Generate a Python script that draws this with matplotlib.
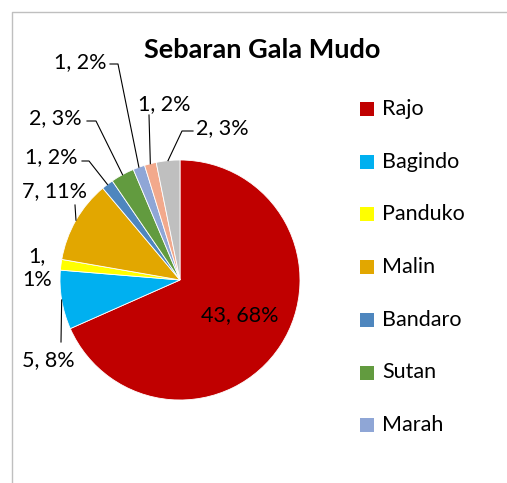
import matplotlib
matplotlib.use("Agg")
from matplotlib import pyplot as plt
import numpy as np

names = ['Rajo', 'Bagindo', 'Panduko', 'Malin', 'Bandaro', 'Sutan', 'Marah', 'Lain 1', 'Lain 2']
values = [43, 5, 0.9, 7, 1, 2, 1, 1, 2]
colors = ['#C00000', '#00B0F0', '#FFFF00', '#E2A700', '#4E86BE',
          '#629B3F', '#8FA6D6', '#F2A98C', '#BFBFBF']
legend_names = names[:7]

# label placement in pixel coords (x, y from top): text centre, leader-line path
label_pos = [(240, 315), (48, 360), (37, 268), (55, 191), (51, 157),
             (55, 118), (80, 62), (164, 104), (222, 128)]
leader = [None, [(61, 342)], None, [(75, 205)], [(89, 161), (82, 161)],
          [(96, 121), (87, 121)], [(118, 64), (110, 64)], [(149, 115)],
          [(182, 131), (193, 131)]]

W, H = 507, 483
fig = plt.figure(figsize=(W / 100, H / 100), dpi=100)
ax = fig.add_axes([0, 0, 1, 1])

font = 'Lato'
cx, cy, R = 180, H - 280, 120

wedges, _ = ax.pie(values, colors=colors, startangle=90, counterclock=False,
                   center=(cx, cy), radius=R, frame=True,
                   wedgeprops=dict(edgecolor='white', linewidth=0.6))
ax.set_xlim(0, W)
ax.set_ylim(0, H)
ax.axis('off')

total = sum(values)
for i, (w, v) in enumerate(zip(wedges, values)):
    txt = '{:.0f}, {:.0%}'.format(v, v / total)
    if names[i] == 'Panduko':
        txt = txt.replace(' ', '\n')
    tx, ty = label_pos[i]
    ax.text(tx, H - ty, txt, ha='center', va='center', fontsize=15.5,
            family=font, color='#000000', linespacing=1.3)
    if leader[i] is not None:
        ang = np.deg2rad((w.theta1 + w.theta2) / 2)
        pts = [(cx + R * np.cos(ang), cy + R * np.sin(ang))]
        pts += [(px, H - py) for px, py in leader[i]]
        xs, ys = zip(*pts)
        ax.plot(xs, ys, color='#000000', lw=0.8)

ax.text(262, H - 50, 'Sebaran Gala Mudo', ha='center', va='center',
        fontsize=19.5, fontweight='bold', family=font)

for i, name in enumerate(legend_names):
    y = H - (109 + i * 52.7)
    ax.add_patch(plt.Rectangle((360, y - 7), 14, 14, color=colors[i], lw=0))
    ax.text(382, y, name, ha='left', va='center', fontsize=15.5, family=font)

ax.plot([12, 12, W], [0, H - 12, H - 12], color='#BFBFBF', lw=1)

fig.savefig('out.png', dpi=100)
